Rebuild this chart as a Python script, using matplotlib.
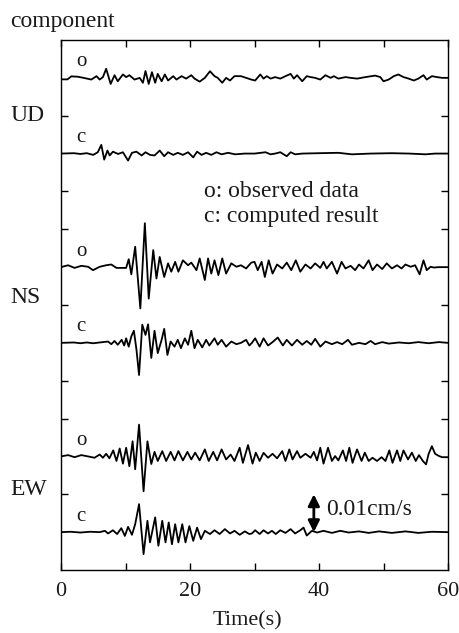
import numpy as np
import matplotlib
matplotlib.use("Agg")
import matplotlib.pyplot as plt
from matplotlib.transforms import blended_transform_factory

plt.rcParams['font.family'] = ['Liberation Serif', 'DejaVu Serif']

# Velocity records: time (s) and ground velocity (1e-3 cm/s)
ud_obs_t = [0.0, 1.0, 1.6, 2.6, 3.5, 4.7, 5.5, 6.0, 6.5, 7.0, 7.7, 8.3, 8.8, 9.6, 10.1, 10.6,
            11.4, 12.2, 12.7, 13.1, 13.6, 14.1, 14.6, 15.0, 15.6, 16.1, 16.6, 17.4, 17.9, 18.7,
            19.4, 20.2, 20.7, 21.5, 22.3, 23.1, 23.8, 24.3, 25.0, 25.6, 26.2, 26.9, 27.9, 28.7,
            29.5, 30.1, 30.9, 31.4, 31.9, 32.5, 33.2, 34.0, 34.8, 35.6, 36.1, 36.6, 37.4, 38.1,
            38.7, 39.4, 40.2, 41.0, 41.8, 42.3, 43.0, 44.1, 44.9, 45.9, 47.2, 48.7, 49.5, 50.0,
            50.8, 51.6, 52.3, 53.1, 53.9, 54.7, 55.4, 56.2, 56.7, 57.5, 58.3, 59.1, 60.0]
ud_obs_v = [-0.4, -0.4, 0.4, 0.3, 0.0, -0.45, 0.45, -0.45, 0.2, 2.4, -1.6, 0.7, -0.9, 0.9, 0.2, 0.7,
            -0.45, 0.0, -1.3, 1.8, -1.6, 1.5, -1.3, 1.05, -0.9, 0.9, -0.7, 0.45, -0.45, 0.45,
            -0.2, 0.7, -0.2, -1.0, 0.0, 1.75, 0.45, 0.0, -1.3, 0.0, -0.7, 0.45, 0.45, 0.0,
            -0.45, -0.7, 0.9, -0.2, 0.45, -0.2, 0.2, -0.2, 0.45, 1.05, -0.2, 0.7, -0.9, 0.45,
            0.2, 0.0, -0.45, 0.7, 0.0, 0.45, -0.2, 0.2, 0.0, -0.2, 0.2, 0.6, 0.2, -0.9,
            -0.45, 0.45, 0.9, 0.2, -0.2, -0.7, -0.2, 0.7, -0.45, 0.45, 0.2, 0.0, 0.0]

ud_cal_t = [0.0, 2.0, 3.0, 4.0, 5.0, 5.7, 6.25, 6.7, 7.2, 7.55, 8.05, 8.85, 9.6, 10.4, 11.0,
            11.7, 12.5, 13.1, 13.8, 14.5, 15.3, 16.0, 16.6, 17.4, 18.1, 18.9, 19.7, 20.5, 21.1,
            21.8, 22.5, 23.3, 24.1, 24.9, 25.9, 27.0, 28.5, 30.0, 31.7, 32.5, 33.2, 34.0, 35.0,
            35.6, 36.3, 37.4, 40.0, 43.0, 45.1, 48.0, 51.3, 54.0, 56.5, 58.0, 60.0]
ud_cal_v = [0.0, 0.1, -0.1, 0.1, -0.35, 0.35, 2.3, -1.6, 0.8, -0.5, 0.5, -0.1, 0.35, -1.85, 0.2,
            0.5, -0.5, 0.35, -0.35, -0.5, 0.8, -0.7, 0.35, -0.35, 0.2, -0.35, 0.35, -1.0, 0.5,
            -0.35, 0.2, -0.35, 0.35, -0.2, 0.2, -0.2, 0.0, 0.0, 0.35, -0.2, 0.0, 0.35, -0.7,
            0.35, -0.2, 0.0, 0.1, 0.2, -0.2, 0.0, 0.1, 0.0, -0.2, 0.0, 0.0]

ns_obs_t = [0.0, 1.1, 2.1, 3.15, 4.2, 4.96, 6.0, 7.0, 7.8, 8.6, 9.6, 10.1, 10.5, 10.9, 11.5,
            12.3, 13.0, 13.6, 14.3, 14.8, 15.3, 16.0, 16.6, 17.1, 17.7, 18.2, 18.9, 19.7, 20.2,
            21.0, 21.5, 22.3, 22.8, 23.3, 23.8, 24.4, 25.0, 25.6, 26.4, 27.2, 27.9, 28.7, 29.5,
            30.0, 30.5, 31.1, 31.6, 32.2, 32.8, 33.5, 34.3, 35.0, 35.7, 36.4, 37.1, 37.9, 38.7,
            39.4, 40.2, 40.7, 41.2, 42.0, 42.8, 43.5, 44.1, 44.9, 45.6, 46.2, 46.9, 47.7, 48.3,
            49.0, 49.8, 50.5, 51.3, 52.1, 52.8, 53.4, 54.2, 54.9, 55.6, 56.2, 56.7, 57.3, 57.8,
            58.6, 60.0]
ns_obs_v = [0.0, 0.5, -0.2, 0.35, 0.1, -0.8, 0.1, 0.5, 0.7, -0.2, -0.2, -0.2, 2.1, -1.9, 5.4,
            -10.9, 11.6, -8.3, 4.5, -3.0, 2.7, -2.6, 1.0, -1.2, 1.4, -1.2, 1.8, 0.5, 1.2,
            -0.8, 2.3, -3.4, 2.3, -1.7, 1.8, -2.1, 2.3, -1.7, 1.0, 0.1, 0.5, -0.35, 1.2,
            1.4, -0.8, 1.4, -2.6, 1.8, -1.7, 0.7, -0.35, 1.2, -0.8, 1.8, -1.2, 0.7, -0.35,
            1.0, -0.2, 1.4, -0.35, 1.4, -1.7, 1.4, -0.35, 0.35, -0.8, 0.7, -0.35, 1.8, -0.8,
            0.7, -0.5, 1.0, -0.35, 0.5, -0.35, 0.7, 0.1, 0.5, -1.9, 1.8, -0.8, 0.1, -0.1,
            0.0, 0.0]

ns_cal_t = [0.0, 2.0, 3.0, 4.0, 5.0, 6.0, 7.3, 7.8, 8.3, 8.8, 9.4, 9.8, 10.1, 10.5, 10.9,
            11.3, 11.7, 12.1, 12.6, 13.1, 13.5, 14.0, 14.5, 15.0, 15.6, 16.0, 16.5, 17.0, 17.6,
            18.1, 18.6, 19.2, 19.7, 20.2, 20.7, 21.2, 21.9, 22.5, 23.0, 23.8, 24.3, 24.9, 25.6,
            26.4, 27.2, 27.9, 28.7, 29.2, 29.6, 30.1, 30.8, 31.4, 32.1, 32.8, 33.6, 34.4, 35.0,
            35.8, 36.6, 37.4, 38.1, 38.8, 39.4, 40.2, 41.0, 42.0, 42.8, 43.6, 44.5, 45.1, 46.2,
            47.2, 48.0, 48.7, 49.8, 50.8, 52.4, 53.9, 55.4, 57.0, 58.6, 60.0]
ns_cal_v = [0.0, 0.1, -0.1, 0.1, -0.1, 0.1, 0.35, -0.35, 0.5, -0.5, 0.8, -0.7, 1.2, -1.0, 1.7,
            3.2, -1.8, -8.5, 4.8, 2.1, 4.9, -4.0, 3.2, -2.7, 0.8, 3.7, -3.2, 0.35, -1.0,
            0.8, -1.4, 1.2, -0.5, 3.2, -1.4, 0.8, -1.2, 0.8, -0.7, 1.2, -0.5, 0.8, -1.0,
            0.35, -0.35, 0.0, 0.8, -0.7, 0.0, 1.2, -1.0, 1.2, -0.7, 0.2, 1.4, -0.7, 0.8,
            -0.7, 0.8, -0.5, 0.5, -0.5, 1.05, -1.0, 0.35, -0.35, 0.2, -0.35, 0.8, -0.5, 0.0,
            -0.35, 0.5, -0.35, 0.2, -0.2, 0.1, -0.1, 0.2, -0.1, 0.2, 0.0]

ew_obs_t = [0.0, 1.1, 2.1, 3.15, 4.2, 5.2, 6.0, 6.5, 7.0, 7.5, 8.1, 8.6, 9.1, 9.6, 10.1,
            10.6, 11.1, 11.5, 12.1, 12.8, 13.4, 14.0, 14.5, 15.0, 15.7, 16.3, 17.0, 17.6, 18.2,
            18.9, 19.6, 20.2, 20.8, 21.5, 22.3, 22.9, 23.6, 24.2, 24.9, 25.6, 26.3, 26.9, 27.7,
            28.2, 29.0, 29.7, 30.2, 30.8, 31.4, 32.1, 32.8, 33.5, 34.3, 34.8, 35.4, 35.9, 36.6,
            37.1, 37.9, 38.7, 39.2, 39.7, 40.2, 40.7, 41.4, 42.0, 42.5, 43.0, 43.7, 44.2, 44.7,
            45.2, 45.9, 46.6, 47.1, 47.7, 48.3, 49.0, 49.7, 50.3, 50.9, 51.4, 52.1, 52.6, 53.1,
            53.8, 54.4, 55.0, 55.5, 56.1, 56.6, 57.0, 57.5, 58.0, 58.6, 59.1, 60.0]
ew_obs_v = [0.0, 0.35, -0.2, 0.35, 0.0, -0.35, 0.5, -0.35, 0.7, -0.5, 1.6, -1.2, 2.1, -1.9, 2.3,
            -2.6, 4.0, -3.4, 8.4, -9.2, 4.0, -2.0, 1.2, -1.2, 1.4, -1.2, 1.2, -1.05, 1.4,
            -1.05, 1.2, -0.8, 1.0, -1.05, 1.85, -1.2, 1.2, -1.05, 1.85, -0.8, 0.5, -1.2, 2.3,
            -1.7, 3.0, -1.9, 1.0, -1.2, 0.95, -0.35, 0.7, -0.5, 1.4, -1.2, 1.85, -0.8, 1.4,
            -0.35, 0.7, -0.35, 1.2, -1.05, 2.3, -1.9, 2.3, -1.2, 0.1, -1.05, 1.6, -1.2, 2.3,
            -1.7, 1.85, -1.2, 1.0, -1.2, -0.35, -1.2, -0.2, -1.2, 1.6, -1.7, 1.6, -1.2, 1.6,
            -0.8, 1.0, -1.2, 0.35, -1.2, -2.1, 0.7, 2.7, 0.7, 0.1, -0.2, -0.2]

ew_cal_t = [0.0, 1.5, 3.0, 4.5, 6.0, 6.8, 7.3, 8.05, 8.7, 9.35, 9.9, 10.4, 11.0, 11.5, 12.1,
            12.8, 13.4, 13.8, 14.6, 15.1, 15.7, 16.2, 16.7, 17.2, 17.7, 18.2, 18.8, 19.3, 19.9,
            20.5, 21.1, 21.7, 22.3, 23.1, 23.8, 24.6, 25.4, 26.2, 26.9, 27.7, 28.5, 29.2, 29.6,
            30.1, 30.8, 31.4, 32.1, 32.7, 33.3, 34.0, 34.8, 35.6, 36.3, 37.1, 37.6, 38.1, 38.9,
            39.7, 40.7, 42.0, 43.3, 44.6, 46.2, 47.7, 49.3, 51.3, 53.4, 55.4, 57.5, 60.0]
ew_cal_v = [0.0, 0.1, -0.1, 0.1, 0.0, 0.35, -0.35, 0.5, -0.5, 1.05, -1.0, 1.4, -0.7, 2.1, 7.4,
            -5.8, 3.0, -2.7, 3.9, -3.6, 3.0, -2.7, 2.55, -3.2, 2.1, -2.7, 2.1, -2.7, 1.6,
            -2.3, 1.2, -1.85, 0.35, -0.5, 0.5, -0.5, 0.8, -0.35, 0.35, -0.7, 0.2, -0.5, -0.35,
            0.5, -0.5, 0.5, -0.35, 0.35, -0.5, 0.5, -0.2, 0.8, -0.35, 0.5, 1.2, -0.9, 0.35,
            -0.1, 0.35, -0.2, 0.35, -0.1, 0.2, -0.2, 0.2, -0.2, 0.2, -0.2, 0.1, 0.0]

components = ["UD", "NS", "EW"]
trace_tags = ["o", "c", "o", "c", "o", "c"]
scale_bar = 0.01  # cm/s

records = [(ud_obs_t, ud_obs_v), (ud_cal_t, ud_cal_v),
           (ns_obs_t, ns_obs_v), (ns_cal_t, ns_cal_v),
           (ew_obs_t, ew_obs_v), (ew_cal_t, ew_cal_v)]

# vertical baseline of each trace (cm/s), stacked from top to bottom
baselines = [-0.01, -0.03, -0.06, -0.08, -0.11, -0.13]
comp_label_y = [-0.0215, -0.0695, -0.1203]

TXT = "#1a1a1a"
W, H = 459, 633
fig = plt.figure(figsize=(W / 100, H / 100), dpi=100)
ax = fig.add_axes([61 / W, 1 - 570 / H, 387 / W, 530 / H])

for (t, v), base, tag in zip(records, baselines, trace_tags):
    ax.plot(t, base + np.asarray(v) * 1e-3, color="black", lw=1.3,
            solid_joinstyle="round", solid_capstyle="round")
    ax.text(3.1, base + 0.003, tag, ha="center", va="baseline", fontsize=15, color=TXT)

ax.set_xlim(0, 60)
ax.set_ylim(-0.14, 0)
ax.set_xticks([0, 20, 40, 60])
ax.set_xticks([10, 30, 50], minor=True)
ax.set_yticks([-0.02, -0.04, -0.05, -0.07, -0.09, -0.10, -0.12])
ax.set_yticklabels([])
ax.tick_params(which="both", direction="in", top=True, right=True,
               length=5, width=1.0, labelsize=16, pad=9, labelcolor=TXT)
for s in ax.spines.values():
    s.set_linewidth(1.0)

fig.text(247 / W, 1 - 621 / H, "Time(s)", ha="center", va="center", fontsize=16, color=TXT)
fig.text(10 / W, 1 - 27 / H, "component", ha="left", va="baseline", fontsize=17, color=TXT)

trans = blended_transform_factory(fig.transFigure, ax.transData)
for name, y in zip(components, comp_label_y):
    ax.text(10 / W, y, name, transform=trans, ha="left", va="baseline", fontsize=17, color=TXT)

fig.text(204 / W, 1 - 197 / H, "o: observed data", ha="left", va="baseline", fontsize=17, color=TXT)
fig.text(204 / W, 1 - 222 / H, "c: computed result", ha="left", va="baseline", fontsize=17, color=TXT)

ax.annotate("", xy=(39.2, -0.13), xytext=(39.2, -0.13 + scale_bar),
            arrowprops=dict(arrowstyle="<|-|>", color="black", lw=2.0,
                            mutation_scale=17, shrinkA=0, shrinkB=0))
ax.text(41.1, -0.1254, "0.01cm/s", ha="left", va="baseline", fontsize=17, color=TXT)

fig.savefig("out.png", dpi=100)
